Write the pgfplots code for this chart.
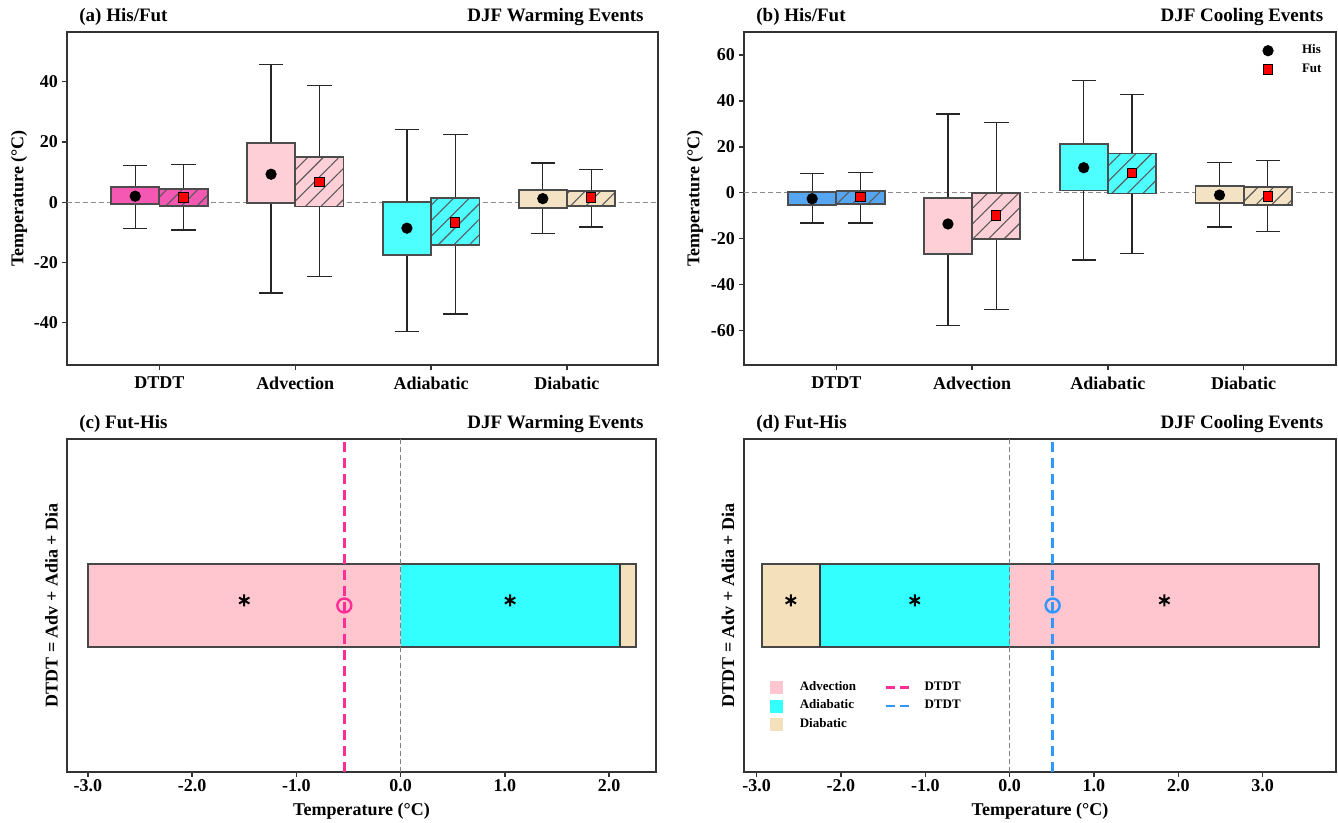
\documentclass[border=0pt]{standalone}
\usepackage{fontspec}
\setmainfont{Liberation Serif}
\usepackage{pgfplots}
\pgfplotsset{compat=1.18}
\usepgfplotslibrary{statistics}
\usetikzlibrary{patterns.meta}

\newcommand\tf{\fontsize{9}{10.8}\selectfont\bfseries}
\newcommand\ttl{\fontsize{9.5}{11}\selectfont\bfseries}
\newcommand\lf{\fontsize{6.5}{7.5}\selectfont\bfseries}

\definecolor{dtdtW}{RGB}{245,88,178}
\definecolor{dtdtC}{RGB}{85,165,240}
\definecolor{advT}{RGB}{255,207,216}
\definecolor{adiT}{RGB}{77,255,255}
\definecolor{diaT}{RGB}{244,226,196}
\definecolor{advB}{RGB}{255,198,208}
\definecolor{adiB}{RGB}{51,255,255}
\definecolor{diaB}{RGB}{245,224,188}
\definecolor{lineW}{RGB}{255,45,150}
\definecolor{lineC}{RGB}{50,150,255}

\pgfplotsset{
  base/.style={scale only axis, anchor=south west, height=166.5pt,
    axis line style={black!80, line width=0.9pt},
    tick align=outside, tick pos=left, major tick length=2.5pt,
    every tick/.style={black!80, line width=0.7pt},
    tick label style={font=\tf},
    yticklabel style={xshift=1.5pt},
    /pgf/number format/assume math mode=true},
  hisbox/.style={forget plot, boxplot/draw direction=y, boxplot/box extend=0.355, boxplot/whisker extend=0.18,
    boxplot/every box/.style={draw=black!70, line width=0.9pt, fill=#1},
    boxplot/every whisker/.style={draw=black!85, line width=0.6pt},
    boxplot/every median/.style={draw=none}},
  futbox/.style={forget plot, boxplot/draw direction=y, boxplot/box extend=0.355, boxplot/whisker extend=0.18,
    boxplot/every box/.style={draw=black!70, line width=0.9pt, fill=#1,
      postaction={pattern={Lines[angle=45,distance=5.5pt,line width=0.55pt]}, pattern color=black!65}},
    boxplot/every whisker/.style={draw=black!85, line width=0.6pt},
    boxplot/every median/.style={draw=none}},
  zline/.style={forget plot, black!45, line width=0.6pt, dash pattern=on 2.5pt off 1.5pt},
  bottomx/.style={xticklabel style={yshift=2.5pt, /pgf/number format/.cd, fixed, fixed zerofill, precision=1}},
}

\begin{document}
\begin{tikzpicture}
\useasboundingbox (0,0) rectangle (669pt,411.5pt);

% ---------------- (a) ----------------
\begin{axis}[base, name=A, at={(33.5pt,229pt)}, width=295.5pt,
  xmin=-0.68, xmax=3.67, ymin=-54, ymax=56.5,
  xtick={0,1,2,3}, xticklabels={DTDT,Advection,Adiabatic,Diabatic},
  ytick={-40,-20,0,20,40}]
\addplot[zline] coordinates {(-0.68,0) (3.67,0)};
\addplot[hisbox=dtdtW, boxplot prepared={draw position=-0.178, lower whisker=-8.7, lower quartile=-0.6, median=2.0, upper quartile=5.0, upper whisker=12.3}] coordinates {};
\addplot[futbox=dtdtW, boxplot prepared={draw position=0.178, lower whisker=-9.2, lower quartile=-1.2, median=1.6, upper quartile=4.5, upper whisker=12.5}] coordinates {};
\addplot[hisbox=advT, boxplot prepared={draw position=0.822, lower whisker=-30.1, lower quartile=-0.2, median=9.3, upper quartile=19.6, upper whisker=45.7}] coordinates {};
\addplot[futbox=advT, boxplot prepared={draw position=1.178, lower whisker=-24.6, lower quartile=-1.4, median=6.8, upper quartile=14.9, upper whisker=38.8}] coordinates {};
\addplot[hisbox=adiT, boxplot prepared={draw position=1.822, lower whisker=-43.0, lower quartile=-17.4, median=-8.6, upper quartile=0.0, upper whisker=24.1}] coordinates {};
\addplot[futbox=adiT, boxplot prepared={draw position=2.178, lower whisker=-37.1, lower quartile=-14.2, median=-6.7, upper quartile=1.3, upper whisker=22.6}] coordinates {};
\addplot[hisbox=diaT, boxplot prepared={draw position=2.822, lower whisker=-10.3, lower quartile=-1.9, median=1.2, upper quartile=4.1, upper whisker=13.0}] coordinates {};
\addplot[futbox=diaT, boxplot prepared={draw position=3.178, lower whisker=-8.2, lower quartile=-1.2, median=1.6, upper quartile=3.8, upper whisker=11.0}] coordinates {};
\addplot[only marks, mark=*, mark size=2.6pt, black, forget plot] coordinates {(-0.178,2.0) (0.822,9.3) (1.822,-8.6) (2.822,1.2)};
\addplot[only marks, mark=square*, mark size=2.3pt, mark options={fill=red, draw=black, line width=0.5pt}, forget plot] coordinates {(0.178,1.6) (1.178,6.8) (2.178,-6.7) (3.178,1.6)};
\end{axis}

% ---------------- (b) ----------------
\begin{axis}[base, name=B, at={(372pt,229pt)}, width=296pt,
  xmin=-0.68, xmax=3.68, ymin=-75, ymax=70,
  xtick={0,1,2,3}, xticklabels={DTDT,Advection,Adiabatic,Diabatic},
  ytick={-60,-40,-20,0,20,40,60},
  legend style={at={(rel axis cs:0.983,0.975)}, anchor=north east, draw=none, fill=none,
    font=\lf, inner sep=0pt, row sep=-0.5pt}, legend cell align=left]
\addlegendimage{legend image code/.code={\path[draw=none,fill=none] (0pt,0pt) -- (18pt,0pt); \fill[black] (3pt,0pt) circle (2.6pt);}}
\addlegendentry{His}
\addlegendimage{legend image code/.code={\path[draw=none,fill=none] (0pt,0pt) -- (18pt,0pt); \filldraw[fill=red, draw=black, line width=0.5pt] (0.7pt,-2.3pt) rectangle (5.3pt,2.3pt);}}
\addlegendentry{Fut}
\addplot[zline] coordinates {(-0.68,0) (3.68,0)};
\addplot[hisbox=dtdtC, boxplot prepared={draw position=-0.178, lower whisker=-13.2, lower quartile=-5.4, median=-2.6, upper quartile=0.4, upper whisker=8.4}] coordinates {};
\addplot[futbox=dtdtC, boxplot prepared={draw position=0.178, lower whisker=-13.2, lower quartile=-4.8, median=-2.0, upper quartile=0.9, upper whisker=8.8}] coordinates {};
\addplot[hisbox=advT, boxplot prepared={draw position=0.822, lower whisker=-57.8, lower quartile=-26.8, median=-13.6, upper quartile=-2.2, upper whisker=34.3}] coordinates {};
\addplot[futbox=advT, boxplot prepared={draw position=1.178, lower whisker=-50.7, lower quartile=-20.3, median=-9.9, upper quartile=0.0, upper whisker=30.6}] coordinates {};
\addplot[hisbox=adiT, boxplot prepared={draw position=1.822, lower whisker=-29.3, lower quartile=1.0, median=10.9, upper quartile=21.4, upper whisker=48.8}] coordinates {};
\addplot[futbox=adiT, boxplot prepared={draw position=2.178, lower whisker=-26.4, lower quartile=-0.3, median=8.7, upper quartile=17.1, upper whisker=42.9}] coordinates {};
\addplot[hisbox=diaT, boxplot prepared={draw position=2.822, lower whisker=-14.9, lower quartile=-4.5, median=-1.0, upper quartile=2.9, upper whisker=13.3}] coordinates {};
\addplot[futbox=diaT, boxplot prepared={draw position=3.178, lower whisker=-17.0, lower quartile=-5.4, median=-1.6, upper quartile=2.6, upper whisker=14.2}] coordinates {};
\addplot[only marks, mark=*, mark size=2.6pt, black, forget plot] coordinates {(-0.178,-2.6) (0.822,-13.6) (1.822,10.9) (2.822,-1.0)};
\addplot[only marks, mark=square*, mark size=2.3pt, mark options={fill=red, draw=black, line width=0.5pt}, forget plot] coordinates {(0.178,-2.0) (1.178,-9.9) (2.178,8.7) (3.178,-1.6)};
\end{axis}

% ---------------- (c) ----------------
\begin{axis}[base, bottomx, name=C, at={(33.5pt,25.5pt)}, width=294.5pt,
  xmin=-3.2, xmax=2.45, ymin=-1, ymax=1, ytick=\empty,
  xtick={-3,-2,-1,0,1,2}]
\addplot[fill=advB, draw=none, forget plot] coordinates {(-3.0,-0.25) (0,-0.25) (0,0.25) (-3.0,0.25)} --cycle;
\addplot[fill=adiB, draw=none, forget plot] coordinates {(0,-0.25) (2.10,-0.25) (2.10,0.25) (0,0.25)} --cycle;
\addplot[fill=diaB, draw=none, forget plot] coordinates {(2.10,-0.25) (2.26,-0.25) (2.26,0.25) (2.10,0.25)} --cycle;
\addplot[draw=black!72, line width=1.2pt, forget plot] coordinates {(-3.0,-0.25) (2.26,-0.25) (2.26,0.25) (-3.0,0.25)} --cycle;
\addplot[black!78, line width=1pt, forget plot] coordinates {(2.10,-0.25) (2.10,0.25)};
\addplot[forget plot, black!50, line width=0.6pt, dash pattern=on 2.5pt off 1.5pt] coordinates {(0,-1) (0,1)};
\addplot[forget plot, lineW, line width=1.4pt, dash pattern=on 5pt off 3pt] coordinates {(-0.54,-1) (-0.54,1)};
\addplot[forget plot, only marks, mark=o, mark size=3.5pt, lineW, line width=1.2pt] coordinates {(-0.54,0)};
\addplot[forget plot, only marks, mark=asterisk, mark size=3pt, black, line width=1pt] coordinates {(-1.5,0.03) (1.05,0.03)};
\end{axis}

% ---------------- (d) ----------------
\begin{axis}[base, bottomx, name=D, at={(372pt,25.5pt)}, width=296pt,
  xmin=-3.15, xmax=3.87, ymin=-1, ymax=1, ytick=\empty,
  xtick={-3,-2,-1,0,1,2,3},
  legend style={at={(rel axis cs:0.044,0.285)}, anchor=north west, draw=none, fill=none,
    font=\lf, inner sep=0pt, row sep=-0.8pt, legend columns=2,
    /tikz/every even column/.append style={column sep=12pt}},
  legend cell align=left]
\addlegendimage{legend image code/.code={\fill[advB] (0pt,-3pt) rectangle (6pt,3pt); \path[draw=none,fill=none] (0pt,0pt) -- (12.5pt,0pt);}}
\addlegendentry{Advection}
\addlegendimage{legend image code/.code={\draw[lineW, line width=1.4pt, dash pattern=on 4.5pt off 2.5pt] (0pt,0pt) -- (11.5pt,0pt); \path[draw=none,fill=none] (0pt,0pt) -- (17.5pt,0pt);}}
\addlegendentry{DTDT}
\addlegendimage{legend image code/.code={\fill[adiB] (0pt,-3pt) rectangle (6pt,3pt); \path[draw=none,fill=none] (0pt,0pt) -- (12.5pt,0pt);}}
\addlegendentry{Adiabatic}
\addlegendimage{legend image code/.code={\draw[lineC, line width=1.4pt, dash pattern=on 4.5pt off 2.5pt] (0pt,0pt) -- (11.5pt,0pt); \path[draw=none,fill=none] (0pt,0pt) -- (17.5pt,0pt);}}
\addlegendentry{DTDT}
\addlegendimage{legend image code/.code={\fill[diaB] (0pt,-3pt) rectangle (6pt,3pt); \path[draw=none,fill=none] (0pt,0pt) -- (12.5pt,0pt);}}
\addlegendentry{Diabatic}
\addplot[fill=diaB, draw=none, forget plot] coordinates {(-2.94,-0.25) (-2.25,-0.25) (-2.25,0.25) (-2.94,0.25)} --cycle;
\addplot[fill=adiB, draw=none, forget plot] coordinates {(-2.25,-0.25) (0,-0.25) (0,0.25) (-2.25,0.25)} --cycle;
\addplot[fill=advB, draw=none, forget plot] coordinates {(0,-0.25) (3.67,-0.25) (3.67,0.25) (0,0.25)} --cycle;
\addplot[draw=black!72, line width=1.2pt, forget plot] coordinates {(-2.94,-0.25) (3.67,-0.25) (3.67,0.25) (-2.94,0.25)} --cycle;
\addplot[black!78, line width=1pt, forget plot] coordinates {(-2.25,-0.25) (-2.25,0.25)};
\addplot[forget plot, black!50, line width=0.6pt, dash pattern=on 2.5pt off 1.5pt] coordinates {(0,-1) (0,1)};
\addplot[forget plot, lineC, line width=1.4pt, dash pattern=on 5pt off 3pt] coordinates {(0.51,-1) (0.51,1)};
\addplot[forget plot, only marks, mark=o, mark size=3.5pt, lineC, line width=1.2pt] coordinates {(0.51,0)};
\addplot[forget plot, only marks, mark=asterisk, mark size=3pt, black, line width=1pt] coordinates {(-2.595,0.03) (-1.125,0.03) (1.835,0.03)};
\end{axis}

% ---------------- labels and titles ----------------
\node[rotate=90, font=\tf] at (9.5pt,312.25pt) {Temperature (°C)};
\node[rotate=90, font=\tf] at (347.5pt,312.25pt) {Temperature (°C)};
\node[rotate=90, font=\tf] at (25.75pt,108.75pt) {DTDT = Adv + Adia + Dia};
\node[rotate=90, font=\tf] at (364pt,108.75pt) {DTDT = Adv + Adia + Dia};
\node[font=\tf, anchor=base] at (180.75pt,3.5pt) {Temperature (°C)};
\node[font=\tf, anchor=base] at (520pt,3.5pt) {Temperature (°C)};

\node[font=\ttl, anchor=base west, inner sep=0pt] at (39.5pt,400.75pt) {(a) His/Fut};
\node[font=\ttl, anchor=base east, inner sep=0pt] at (322pt,400.75pt) {DJF Warming Events};
\node[font=\ttl, anchor=base west, inner sep=0pt] at (378pt,400.75pt) {(b) His/Fut};
\node[font=\ttl, anchor=base east, inner sep=0pt] at (661.8pt,400.75pt) {DJF Cooling Events};
\node[font=\ttl, anchor=base west, inner sep=0pt] at (39.5pt,197.3pt) {(c) Fut-His};
\node[font=\ttl, anchor=base east, inner sep=0pt] at (322pt,197.3pt) {DJF Warming Events};
\node[font=\ttl, anchor=base west, inner sep=0pt] at (378pt,197.3pt) {(d) Fut-His};
\node[font=\ttl, anchor=base east, inner sep=0pt] at (661.8pt,197.3pt) {DJF Cooling Events};
\end{tikzpicture}
\end{document}
